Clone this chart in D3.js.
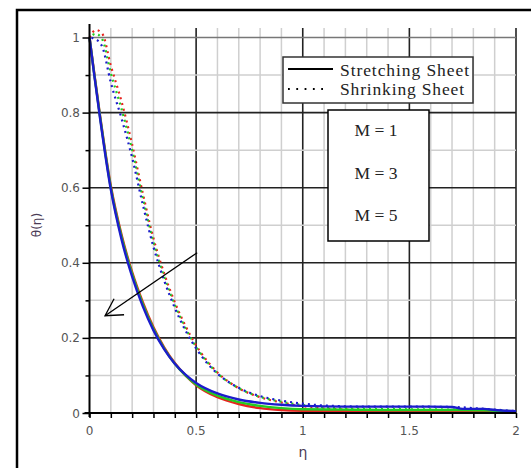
<!DOCTYPE html>
<html>
<head>
<meta charset="utf-8">
<script src="https://cdn.jsdelivr.net/npm/d3@7"></script>
<style>
  body { margin: 0; background: #fff; }
  svg { display: block; }
</style>
</head>
<body>
<div id="chart"></div>
<script>
// stretching sheet (solid lines)
const etaStretch = [0, 0.02, 0.05, 0.1, 0.15, 0.2, 0.25, 0.3, 0.35, 0.4, 0.45, 0.5, 0.6, 0.7, 0.8, 0.9, 1.0, 1.2, 1.4, 1.6, 1.7, 1.75, 1.85, 1.9, 2.0];
const stretchM1 = [1, 0.915, 0.79, 0.605, 0.475, 0.375, 0.295, 0.228, 0.175, 0.133, 0.1, 0.074, 0.042, 0.024, 0.013, 0.008, 0.006, 0.005, 0.005, 0.005, 0.005, 0.005, 0.004, 0.004, 0.003];
const stretchM3 = [1, 0.912, 0.787, 0.6, 0.47, 0.37, 0.29, 0.224, 0.172, 0.131, 0.1, 0.076, 0.046, 0.029, 0.019, 0.013, 0.01, 0.009, 0.008, 0.008, 0.008, 0.008, 0.007, 0.006, 0.004];
const stretchM5 = [1, 0.91, 0.783, 0.595, 0.463, 0.363, 0.284, 0.22, 0.17, 0.131, 0.102, 0.08, 0.052, 0.036, 0.027, 0.022, 0.019, 0.017, 0.017, 0.017, 0.016, 0.011, 0.011, 0.008, 0.005];

// shrinking sheet (dotted lines)
const etaShrink = [0, 0.03, 0.06, 0.1, 0.15, 0.2, 0.25, 0.3, 0.35, 0.4, 0.45, 0.5, 0.55, 0.6, 0.7, 0.8, 0.9, 1.0, 1.1, 1.3, 1.5, 1.7, 1.85, 2.0];
const shrinkM1 = [1, 1.02, 1.01, 0.925, 0.83, 0.715, 0.585, 0.465, 0.372, 0.295, 0.232, 0.18, 0.14, 0.108, 0.066, 0.042, 0.028, 0.018, 0.012, 0.008, 0.007, 0.006, 0.005, 0.004];
const shrinkM3 = [1, 1.01, 0.995, 0.905, 0.81, 0.7, 0.572, 0.455, 0.363, 0.288, 0.226, 0.176, 0.137, 0.106, 0.066, 0.043, 0.03, 0.021, 0.015, 0.011, 0.01, 0.009, 0.007, 0.005];
const shrinkM5 = [1, 0.995, 0.975, 0.88, 0.785, 0.68, 0.555, 0.442, 0.353, 0.28, 0.22, 0.172, 0.134, 0.105, 0.067, 0.045, 0.033, 0.025, 0.02, 0.017, 0.017, 0.016, 0.011, 0.005];

const seriesColors = ["#e8231e", "#22cc22", "#1c1ccc"];
const mLabels = ["M = 1", "M = 3", "M = 5"];
const xTickLabels = [0, 0.5, 1, 1.5, 2];
const yTickLabels = [0, 0.2, 0.4, 0.6, 0.8, 1];

const W = 531, H = 468;
const svg = d3.select("#chart").append("svg")
    .attr("width", W)
    .attr("height", H);

// outer frame
svg.append("rect")
    .attr("x", 17).attr("y", 10)
    .attr("width", 540).attr("height", 480)
    .attr("fill", "none")
    .attr("stroke", "#000")
    .attr("stroke-width", 2.5);

const x = d3.scaleLinear().domain([0, 2]).range([89.5, 516]);
const y = d3.scaleLinear().domain([0, 1]).range([413, 37.5]);
const plotTop = 28;

// grid
const minorX = d3.range(0, 21).map(d => d / 10);
const minorY = d3.range(0, 11).map(d => d / 10);
const isMajorX = d => Math.abs(d * 2 - Math.round(d * 2)) < 1e-6;
const isMajorY = d => Math.abs(d * 5 - Math.round(d * 5)) < 1e-6;

const grid = svg.append("g");
grid.selectAll("line.gx")
  .data(minorX.filter(d => d > 0))
  .join("line")
    .attr("x1", d => x(d)).attr("x2", d => x(d))
    .attr("y1", plotTop).attr("y2", y(0))
    .attr("stroke", d => isMajorX(d) ? "#222" : "#cfcfcf")
    .attr("stroke-width", d => isMajorX(d) ? 1.6 : 1.5);
grid.selectAll("line.gy")
  .data(minorY.filter(d => d > 0))
  .join("line")
    .attr("x1", x(0)).attr("x2", x(2))
    .attr("y1", d => y(d)).attr("y2", d => y(d))
    .attr("stroke", d => isMajorY(d) ? (d === 1 ? "#777" : "#222") : "#cfcfcf")
    .attr("stroke-width", d => isMajorY(d) ? 1.6 : 1.5);

// curves
const line = d3.line()
    .x(d => x(d[0]))
    .y(d => y(d[1]))
    .curve(d3.curveMonotoneX);

const shrinkSets = [shrinkM1, shrinkM3, shrinkM5];
const stretchSets = [stretchM1, stretchM3, stretchM5];

shrinkSets.forEach((vals, i) => {
  svg.append("path")
      .attr("d", line(etaShrink.map((e, j) => [e, vals[j]])))
      .attr("fill", "none")
      .attr("stroke", seriesColors[i])
      .attr("stroke-width", 2.2)
      .attr("stroke-dasharray", "2,4")
      .attr("stroke-dashoffset", i * 2);
});

stretchSets.forEach((vals, i) => {
  svg.append("path")
      .attr("d", line(etaStretch.map((e, j) => [e, vals[j]])))
      .attr("fill", "none")
      .attr("stroke", seriesColors[i])
      .attr("stroke-width", 2.4);
});

// axes
const yAxis = svg.append("g")
    .attr("transform", `translate(${x(0)},0)`)
    .call(d3.axisLeft(y).tickValues(minorY).tickSize(4).tickFormat(""));
yAxis.selectAll(".tick line")
    .attr("x2", d => isMajorY(d) ? -7 : -4)
    .attr("stroke-width", 1.5);
yAxis.select(".domain").remove();
svg.append("line")
    .attr("x1", x(0)).attr("x2", x(0))
    .attr("y1", plotTop - 4).attr("y2", y(0) + 4)
    .attr("stroke", "#000").attr("stroke-width", 2);

const xAxis = svg.append("g")
    .attr("transform", `translate(0,${y(0)})`)
    .call(d3.axisBottom(x).tickValues(minorX).tickSize(5).tickFormat(""));
xAxis.selectAll(".tick line").attr("stroke-width", 1.5);
xAxis.select(".domain").remove();
svg.append("line")
    .attr("x1", x(0) - 5).attr("x2", x(2))
    .attr("y1", y(0)).attr("y2", y(0))
    .attr("stroke", "#000").attr("stroke-width", 2);

// tick labels
svg.selectAll("text.ylab")
  .data(yTickLabels)
  .join("text")
    .attr("x", 80)
    .attr("y", d => y(d) + 4.5)
    .attr("text-anchor", "end")
    .style("font-family", "DejaVu Sans, sans-serif")
    .style("font-size", "12px")
    .style("fill", "#555")
    .text(d => d);

svg.selectAll("text.xlab")
  .data(xTickLabels)
  .join("text")
    .attr("x", d => x(d))
    .attr("y", 435)
    .attr("text-anchor", "middle")
    .style("font-family", "DejaVu Sans, sans-serif")
    .style("font-size", "12px")
    .style("fill", "#555")
    .text(d => d);

// axis titles
svg.append("text")
    .attr("transform", "translate(41,225) rotate(-90)")
    .attr("text-anchor", "middle")
    .style("font-family", "DejaVu Sans, sans-serif")
    .style("font-size", "12px")
    .style("fill", "#4a3a55")
    .text("θ(η)");

svg.append("text")
    .attr("x", 303)
    .attr("y", 457)
    .attr("text-anchor", "middle")
    .style("font-family", "DejaVu Sans, sans-serif")
    .style("font-size", "14px")
    .style("fill", "#4a3a55")
    .text("η");

// line-style legend
const lg = svg.append("g");
lg.append("rect")
    .attr("x", 283).attr("y", 57)
    .attr("width", 190).attr("height", 46)
    .attr("fill", "#fff")
    .attr("stroke", "#333")
    .attr("stroke-width", 1.5);
lg.append("line")
    .attr("x1", 288).attr("x2", 333)
    .attr("y1", 69).attr("y2", 69)
    .attr("stroke", "#000").attr("stroke-width", 2);
lg.append("line")
    .attr("x1", 288).attr("x2", 325)
    .attr("y1", 89).attr("y2", 89)
    .attr("stroke", "#000").attr("stroke-width", 1.8)
    .attr("stroke-dasharray", "1.8,6.5");
lg.selectAll("text")
  .data(["Stretching Sheet", "Shrinking Sheet"])
  .join("text")
    .attr("x", 340)
    .attr("y", (d, i) => 75.5 + i * 19)
    .attr("textLength", (d, i) => i === 0 ? 129 : 124)
    .style("font-family", "Liberation Serif, serif")
    .style("font-size", "17.5px")
    .style("fill", "#222")
    .text(d => d);

// M values box
const mb = svg.append("g");
mb.append("rect")
    .attr("x", 328).attr("y", 110)
    .attr("width", 101).attr("height", 131)
    .attr("fill", "#fff")
    .attr("stroke", "#000")
    .attr("stroke-width", 1.5);
mb.selectAll("text")
  .data(mLabels)
  .join("text")
    .attr("x", 376)
    .attr("y", (d, i) => 136 + i * 42.5)
    .attr("text-anchor", "middle")
    .style("font-family", "Liberation Serif, serif")
    .style("font-size", "17.5px")
    .style("fill", "#222")
    .text(d => d);

// arrow showing increasing M
const ax1 = x(0.505), ay1 = y(0.427), ax2 = x(0.073), ay2 = y(0.259);
svg.append("line")
    .attr("x1", ax1).attr("y1", ay1)
    .attr("x2", ax2).attr("y2", ay2)
    .attr("stroke", "#000").attr("stroke-width", 1.3);
svg.append("path")
    .attr("d", `M${ax2 + 9},${ay2 - 17} L${ax2},${ay2} L${ax2 + 19},${ay2 - 1}`)
    .attr("fill", "none")
    .attr("stroke", "#000").attr("stroke-width", 1.3);
</script>
</body>
</html>
